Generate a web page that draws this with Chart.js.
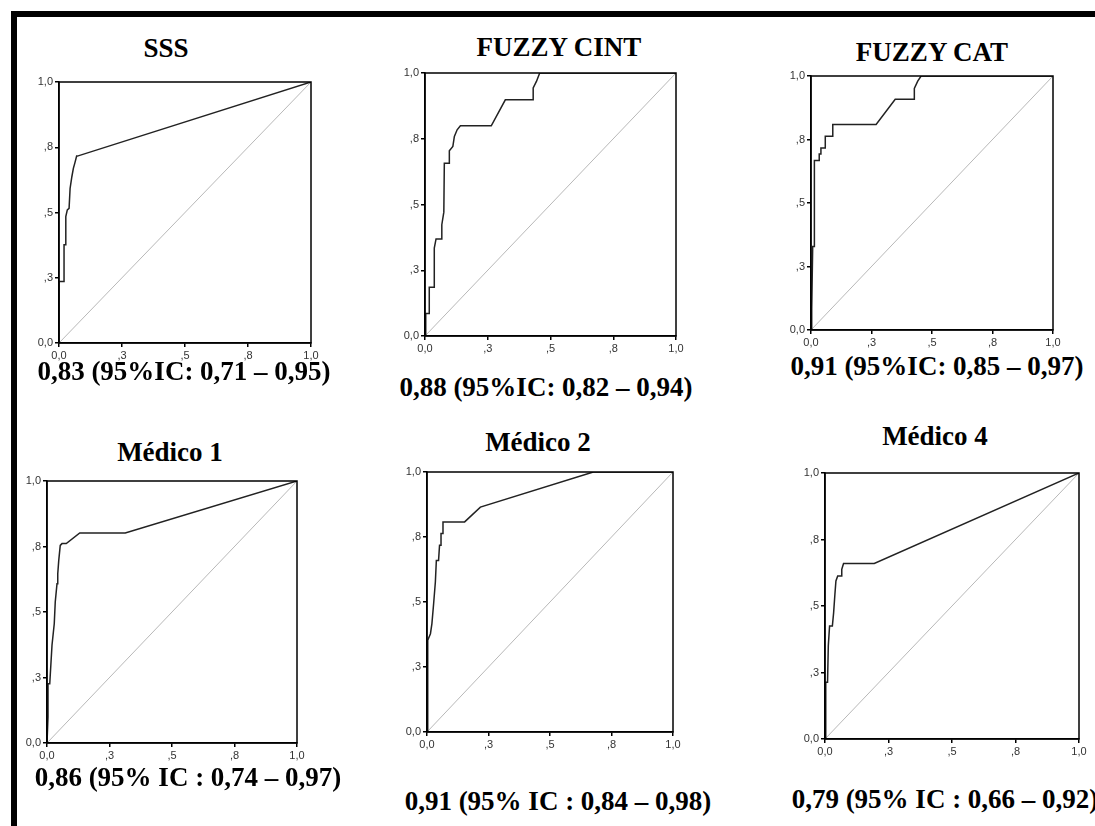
<!DOCTYPE html>
<html>
<head>
<meta charset="utf-8">
<script src="https://cdn.jsdelivr.net/npm/chart.js@4"></script>
<style>
body { margin: 0; background: #fff; width: 1095px; height: 826px; overflow: hidden; position: relative; }
#frame { position: absolute; left: 11px; top: 11px; width: 1100px; height: 830px; border-top: 6px solid #000; border-left: 6px solid #000; }
canvas { position: absolute; }
.lbl { position: absolute; transform: translate(-50%, -50%); font-family: "Liberation Serif", "Times New Roman", serif; font-weight: bold; font-size: 27px; line-height: 1; white-space: nowrap; color: #000; }
</style>
</head>
<body>
<div id="frame"></div>

<div class="lbl" id="t1" style="left:166px; top:48px"></div>
<canvas id="c1" width="302" height="291" style="left:19px; top:72px"></canvas>
<div class="lbl" id="f1" style="left:184px; top:371px"></div>

<div class="lbl" id="t2" style="left:559px; top:47px"></div>
<canvas id="c2" width="301" height="293" style="left:385px; top:63px"></canvas>
<div class="lbl" id="f2" style="left:546px; top:387px"></div>

<div class="lbl" id="t3" style="left:932px; top:52px"></div>
<canvas id="c3" width="292" height="284" style="left:771px; top:66px"></canvas>
<div class="lbl" id="f3" style="left:937px; top:366px"></div>

<div class="lbl" id="t4" style="left:170px; top:452px"></div>
<canvas id="c4" width="300" height="292" style="left:7px; top:471px"></canvas>
<div class="lbl" id="f4" style="left:188px; top:777px"></div>

<div class="lbl" id="t5" style="left:538px; top:442px"></div>
<canvas id="c5" width="296" height="290" style="left:387px; top:462px"></canvas>
<div class="lbl" id="f5" style="left:558px; top:801px"></div>

<div class="lbl" id="t6" style="left:935px; top:436px"></div>
<canvas id="c6" width="304" height="296" style="left:785px; top:463px"></canvas>
<div class="lbl" id="f6" style="left:945px; top:799px"></div>

<script>
// titles and AUC captions
const titles = ['SSS', 'FUZZY CINT', 'FUZZY CAT', 'Médico 1', 'Médico 2', 'Médico 4'];
const captions = [
    '0,83 (95%IC: 0,71 – 0,95)',
    '0,88 (95%IC: 0,82 – 0,94)',
    '0,91 (95%IC: 0,85 – 0,97)',
    '0,86 (95% IC : 0,74 – 0,97)',
    '0,91 (95% IC : 0,84 – 0,98)',
    '0,79 (95% IC : 0,66 – 0,92)'
];

const tickValues = [0, 0.25, 0.5, 0.75, 1];
const tickLabels = ['0,0', ',3', ',5', ',8', '1,0'];

// reference line
const diagX = [0, 1];
const diagY = [0, 1];

// ROC curves: 1 - specificity (x) and sensitivity (y)
const sssX = [0, 0, 0.02, 0.02, 0.027, 0.027, 0.033, 0.04, 0.044, 0.051, 0.057, 0.063, 0.07, 0.073, 1];
const sssY = [0, 0.236, 0.236, 0.376, 0.376, 0.484, 0.51, 0.516, 0.592, 0.637, 0.669, 0.69, 0.716, 0.716, 1];

const cintX = [0, 0.003, 0.017, 0.017, 0.037, 0.037, 0.044, 0.067, 0.067, 0.075, 0.077, 0.097, 0.097, 0.111, 0.117, 0.128, 0.141, 0.264, 0.32, 0.431, 0.431, 0.444, 0.457, 1];
const cintY = [0, 0.086, 0.086, 0.185, 0.185, 0.334, 0.369, 0.369, 0.423, 0.471, 0.657, 0.657, 0.704, 0.721, 0.759, 0.784, 0.799, 0.799, 0.898, 0.898, 0.943, 0.968, 1, 1];

const catX = [0, 0.003, 0.007, 0.014, 0.014, 0.034, 0.034, 0.041, 0.041, 0.059, 0.059, 0.09, 0.09, 0.269, 0.348, 0.427, 0.427, 0.441, 0.455, 1];
const catY = [0, 0.086, 0.329, 0.329, 0.667, 0.667, 0.693, 0.693, 0.717, 0.717, 0.763, 0.763, 0.809, 0.809, 0.908, 0.908, 0.951, 0.98, 1, 1];

const med1X = [0, 0.004, 0.004, 0.011, 0.02, 0.029, 0.033, 0.04, 0.043, 0.047, 0.053, 0.06, 0.077, 0.131, 0.313, 1];
const med1Y = [0, 0.099, 0.226, 0.226, 0.373, 0.455, 0.538, 0.608, 0.646, 0.697, 0.754, 0.761, 0.761, 0.802, 0.802, 1];

const med2X = [0, 0.003, 0.003, 0.014, 0.02, 0.027, 0.034, 0.038, 0.047, 0.051, 0.057, 0.057, 0.065, 0.065, 0.153, 0.217, 0.676, 1];
const med2Y = [0, 0.173, 0.353, 0.378, 0.417, 0.494, 0.577, 0.66, 0.66, 0.718, 0.718, 0.763, 0.763, 0.808, 0.808, 0.865, 1, 1];

const med4X = [0, 0.003, 0.003, 0.01, 0.013, 0.018, 0.029, 0.034, 0.039, 0.043, 0.05, 0.063, 0.066, 0.073, 0.194, 1];
const med4Y = [0, 0.069, 0.213, 0.213, 0.35, 0.425, 0.425, 0.475, 0.544, 0.594, 0.613, 0.613, 0.638, 0.66, 0.66, 1];

// box round the plot area (top and right sides)
const frame = {
    id: 'frame',
    afterDatasetsDraw(chart) {
        const a = chart.chartArea;
        const ctx = chart.ctx;
        ctx.save();
        ctx.strokeStyle = '#000';
        ctx.lineWidth = 1.5;
        ctx.strokeRect(a.left, a.top, a.right - a.left, a.bottom - a.top);
        ctx.restore();
    }
};

function axis(isY) {
    return {
        type: 'linear',
        min: 0,
        max: 1,
        afterBuildTicks: s => { s.ticks = tickValues.map(v => ({ value: v })); },
        afterFit: s => { if (isY) s.width = 40; else s.height = 20; },
        grid: { drawOnChartArea: false, drawTicks: true, tickLength: 4, color: '#000', lineWidth: 1.5 },
        border: { display: true, color: '#000', width: 1.5 },
        ticks: {
            callback: (v, i) => tickLabels[i],
            autoSkip: false,
            maxRotation: 0,
            padding: 2,
            color: '#333',
            font: { family: 'Liberation Sans', size: 11 }
        }
    };
}

function toPoints(xs, ys) {
    return xs.map((v, i) => ({ x: v, y: ys[i] }));
}

function rocChart(id, xs, ys) {
    return new Chart(document.getElementById(id), {
        type: 'scatter',
        data: {
            datasets: [{
                data: toPoints(xs, ys),
                showLine: true,
                borderColor: '#222',
                borderWidth: 1.5,
                pointRadius: 0
            },
            {
                data: toPoints(diagX, diagY),
                showLine: true,
                borderColor: '#b8b8b8',
                borderWidth: 1,
                pointRadius: 0
            }]
        },
        options: {
            responsive: false,
            animation: false,
            layout: { padding: { top: 10, right: 10, left: 0, bottom: 0 } },
            plugins: { legend: { display: false }, tooltip: { enabled: false } },
            scales: { x: axis(false), y: axis(true) }
        },
        plugins: [frame]
    });
}

for (let i = 0; i < titles.length; i++) {
    document.getElementById('t' + (i + 1)).textContent = titles[i];
    document.getElementById('f' + (i + 1)).textContent = captions[i];
}

rocChart('c1', sssX, sssY);
rocChart('c2', cintX, cintY);
rocChart('c3', catX, catY);
rocChart('c4', med1X, med1Y);
rocChart('c5', med2X, med2Y);
rocChart('c6', med4X, med4Y);
</script>
</body>
</html>
